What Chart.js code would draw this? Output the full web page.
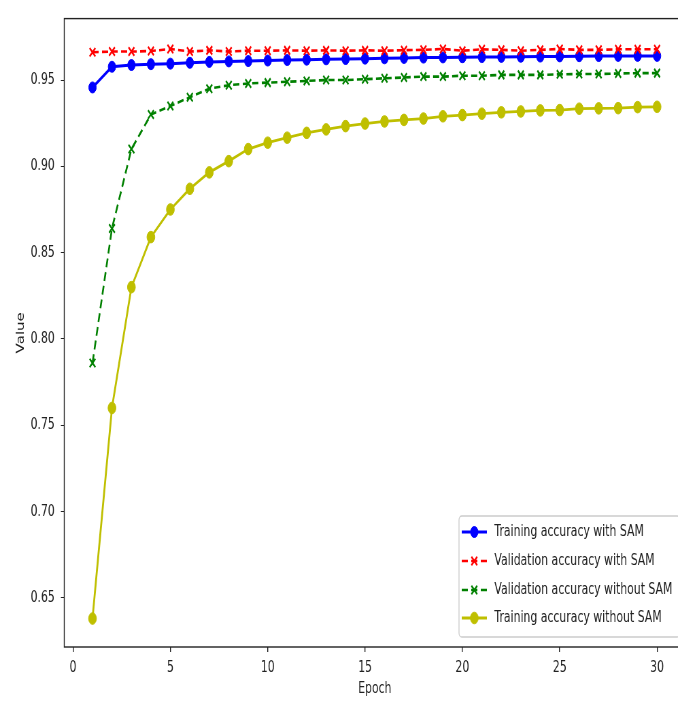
<!DOCTYPE html>
<html>
<head>
<meta charset="utf-8">
<script src="https://cdn.jsdelivr.net/npm/chart.js@4/dist/chart.umd.min.js"></script>
<style>
  html, body { margin: 0; padding: 0; background: #fff; overflow: hidden; }
  /* the reference is squeezed sideways, so draw wide and squeeze */
  #chart { transform: scaleX(0.68); transform-origin: 0 0; display: block; }
</style>
</head>
<body>
<canvas id="chart" width="1016" height="705"></canvas>
<script>
// Datos
const epochs = [1, 2, 3, 4, 5, 6, 7, 8, 9, 10, 11, 12, 13, 14, 15,
  16, 17, 18, 19, 20, 21, 22, 23, 24, 25, 26, 27, 28, 29, 30];

const trainSam = [0.9457, 0.9577, 0.9587, 0.9592, 0.9595, 0.9600, 0.9605, 0.9608, 0.9610, 0.9613,
  0.9616, 0.9618, 0.9620, 0.9622, 0.9624, 0.9626, 0.9628, 0.9630, 0.9631, 0.9632,
  0.9633, 0.9634, 0.9635, 0.9636, 0.9637, 0.9638, 0.9639, 0.9640, 0.9640, 0.9640];

const valSam = [0.9661, 0.9665, 0.9665, 0.9668, 0.9680, 0.9665, 0.9672, 0.9665, 0.9670, 0.9670,
  0.9672, 0.9670, 0.9672, 0.9670, 0.9672, 0.9670, 0.9673, 0.9675, 0.9680, 0.9670,
  0.9678, 0.9675, 0.9670, 0.9675, 0.9680, 0.9675, 0.9675, 0.9678, 0.9678, 0.9678];

const valNoSam = [0.786, 0.864, 0.910, 0.930, 0.935, 0.940, 0.945, 0.947, 0.948, 0.9485,
  0.949, 0.9495, 0.950, 0.950, 0.9505, 0.951, 0.9515, 0.952, 0.952, 0.9525,
  0.9525, 0.953, 0.953, 0.953, 0.9533, 0.9535, 0.9535, 0.9538, 0.954, 0.954];

const trainNoSam = [0.638, 0.760, 0.830, 0.859, 0.875, 0.887, 0.8965, 0.903, 0.910, 0.9137,
  0.9166, 0.9194, 0.9214, 0.9233, 0.9248, 0.926, 0.9269, 0.9277, 0.929, 0.9297,
  0.9305, 0.9313, 0.9318, 0.9324, 0.9326, 0.9334, 0.9336, 0.9337, 0.9343, 0.9345];

const xTicks = [0, 5, 10, 15, 20, 25, 30];
const yTicks = [0.65, 0.70, 0.75, 0.80, 0.85, 0.90, 0.95];

const FONT = "'DejaVu Sans', sans-serif";
const INK = "#222";

function puntos(vals) {
  return vals.map((v, i) => ({ x: epochs[i], y: v }));
}

// Marco alrededor del área del gráfico
const marcoPlugin = {
  id: "marco",
  afterDatasetsDraw(chart) {
    const a = chart.chartArea;
    const ctx = chart.ctx;
    ctx.save();
    ctx.strokeStyle = INK;
    ctx.lineWidth = 1.4;
    ctx.strokeRect(a.left, a.top, a.right - a.left, a.bottom - a.top);
    ctx.restore();
  }
};

// Leyenda dibujada a mano, abajo a la derecha
const leyendaPlugin = {
  id: "leyenda",
  afterDraw(chart) {
    const ctx = chart.ctx;
    const left = 675, top = 516, right = 1000, bottom = 637;
    ctx.save();
    ctx.fillStyle = "rgba(255,255,255,0.85)";
    ctx.strokeStyle = "#cccccc";
    ctx.lineWidth = 1.3;
    ctx.beginPath();
    ctx.roundRect(left, top, right - left, bottom - top, 4);
    ctx.fill();
    ctx.stroke();

    const rows = [532, 561, 590, 618];
    chart.data.datasets.forEach((ds, i) => {
      const y = rows[i];
      ctx.strokeStyle = ds.borderColor;
      ctx.lineWidth = ds.borderWidth;
      ctx.setLineDash(ds.borderDash || []);
      ctx.beginPath();
      ctx.moveTo(679, y);
      ctx.lineTo(716, y);
      ctx.stroke();
      ctx.setLineDash([]);
      ctx.fillStyle = ds.backgroundColor;
      ctx.strokeStyle = ds.borderColor;
      ctx.lineWidth = ds.pointBorderWidth || 1;
      Chart.helpers.drawPoint(ctx, {
        pointStyle: ds.pointStyle,
        radius: ds.pointRadius,
        borderWidth: ds.pointBorderWidth || 1
      }, 697.5, y);
      ctx.fillStyle = INK;
      ctx.font = "16px " + FONT;
      ctx.textBaseline = "middle";
      ctx.fillText(ds.label, 727, y);
    });
    ctx.restore();
  }
};

const datasets = [
  {
    label: "Training accuracy with SAM",
    data: puntos(trainSam),
    borderColor: "#0000ff",
    backgroundColor: "#0000ff",
    borderWidth: 3,
    pointStyle: "circle",
    pointRadius: 5.5,
    pointBorderWidth: 1,
    order: 4
  },
  {
    label: "Validation accuracy with SAM",
    data: puntos(valSam),
    borderColor: "#ff0000",
    backgroundColor: "#ff0000",
    borderWidth: 2.6,
    borderDash: [9, 5],
    pointStyle: "crossRot",
    pointRadius: 6,
    pointBorderWidth: 2.2,
    order: 3
  },
  {
    label: "Validation accuracy without SAM",
    data: puntos(valNoSam),
    borderColor: "#008000",
    backgroundColor: "#008000",
    borderWidth: 2.6,
    borderDash: [9, 5],
    pointStyle: "crossRot",
    pointRadius: 6,
    pointBorderWidth: 2.2,
    order: 2
  },
  {
    label: "Training accuracy without SAM",
    data: puntos(trainNoSam),
    borderColor: "#bfbf00",
    backgroundColor: "#bfbf00",
    borderWidth: 2.8,
    pointStyle: "circle",
    pointRadius: 5.8,
    pointBorderWidth: 1,
    order: 1
  }
];

const chart = new Chart(document.getElementById("chart"), {
  type: "line",
  data: { datasets },
  options: {
    responsive: false,
    animation: false,
    devicePixelRatio: 1,
    layout: { padding: { left: 0, right: 5, top: 11, bottom: 0 } },
    elements: { line: { tension: 0 } },
    plugins: {
      legend: { display: false },
      tooltip: { enabled: false }
    },
    scales: {
      x: {
        type: "linear",
        min: -0.45,
        max: 31.45,
        afterFit: s => { s.height = 58; },
        afterBuildTicks: s => { s.ticks = xTicks.map(v => ({ value: v })); },
        border: { display: false },
        grid: { drawOnChartArea: false, drawTicks: true, tickLength: 5, color: INK, lineWidth: 1.4 },
        ticks: { color: INK, padding: 6, font: { family: FONT, size: 16 }, maxRotation: 0 },
        title: { display: true, text: "Epoch", color: INK, font: { family: FONT, size: 16 }, padding: { top: 0, bottom: 7 } }
      },
      y: {
        min: 0.6215,
        max: 0.9856,
        afterFit: s => { s.width = 94.5; },
        afterBuildTicks: s => { s.ticks = yTicks.map(v => ({ value: v })); },
        border: { display: false },
        grid: { drawOnChartArea: false, drawTicks: true, tickLength: 5, color: INK, lineWidth: 1 },
        ticks: { color: INK, padding: 9, font: { family: FONT, size: 16 }, callback: v => v.toFixed(2) },
        title: { display: true, text: "Value", color: INK, font: { family: FONT, size: 15 }, padding: { top: 22, bottom: 0 } }
      }
    }
  },
  plugins: [marcoPlugin, leyendaPlugin]
});
</script>
</body>
</html>
